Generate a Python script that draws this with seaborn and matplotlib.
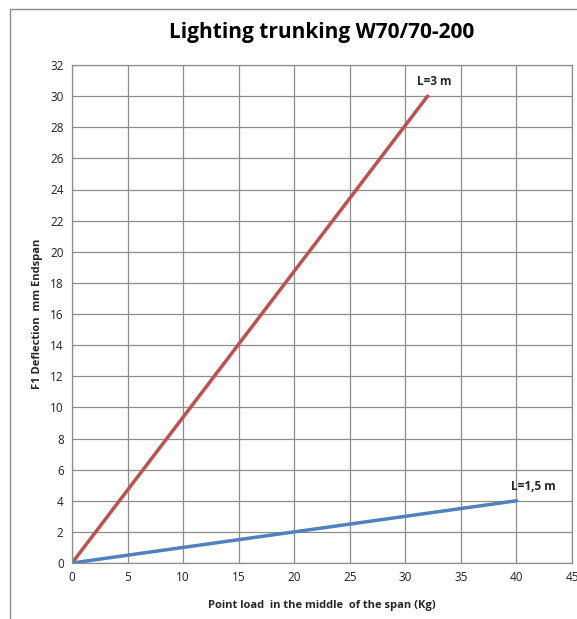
import matplotlib
matplotlib.use("Agg")
import matplotlib.pyplot as plt
import matplotlib.patches as mpatches
import seaborn as sns
import pandas as pd

# Deflection under a point load at mid-span
load_3m = [0, 32]
defl_3m = [0, 30]
load_15m = [0, 40]
defl_15m = [0, 4]
series_names = ["L=3 m", "L=1,5 m"]
x_ticks = list(range(0, 46, 5))
y_ticks = list(range(0, 33, 2))

df = pd.DataFrame({
    "load": load_3m + load_15m,
    "defl": defl_3m + defl_15m,
    "span": [series_names[0]] * len(load_3m) + [series_names[1]] * len(load_15m),
})

sns.set_style("white")
plt.rcParams["font.family"] = ["Open Sans", "DejaVu Sans"]

fig = plt.figure(figsize=(5.77, 6.19), dpi=100)
ax = fig.add_axes([72 / 577, 56 / 619, 500 / 577, 498 / 619])

# outer chart border
fig.patches.append(mpatches.Rectangle((10 / 577, -0.1), 1.2, 1 - 9 / 619 + 0.1,
                                      transform=fig.transFigure, fill=False,
                                      edgecolor="#8c8c8c", linewidth=1.0))

palette = {series_names[0]: "#C0504D", series_names[1]: "#4F81BD"}
sns.lineplot(data=df, x="load", y="defl", hue="span", palette=palette,
             linewidth=2.5, ax=ax, legend=False)

ax.set_xlim(0, 45)
ax.set_ylim(0, 32)
ax.set_xticks(x_ticks)
ax.set_yticks(y_ticks)
ax.grid(True, color="#8c8c8c", linewidth=0.9)
ax.set_axisbelow(True)
for s in ax.spines.values():
    s.set_color("#8c8c8c")
    s.set_linewidth(0.9)
ax.tick_params(axis="both", length=0, labelsize=8.5, colors="#222222", pad=6)

ax.set_xlabel("Point load  in the middle  of the span (Kg)", fontsize=8,
              fontweight="bold", labelpad=11)
ax.set_ylabel("F1 Deflection  mm Endspan", fontsize=8, fontweight="bold",
              labelpad=5)
fig.suptitle("Lighting trunking W70/70-200", fontsize=15, fontweight="bold",
             color="black", x=(72 + 572) / 2 / 577, y=1 - 22 / 619, va="top")

ax.text(load_3m[-1] + 0.6, defl_3m[-1] + 0.95, series_names[0], fontsize=8.5,
        fontweight="bold", ha="center", va="center")
ax.text(load_15m[-1] + 1.5, defl_15m[-1] + 0.9, series_names[1], fontsize=8.5,
        fontweight="bold", ha="center", va="center")

fig.savefig("out.png", dpi=100)
